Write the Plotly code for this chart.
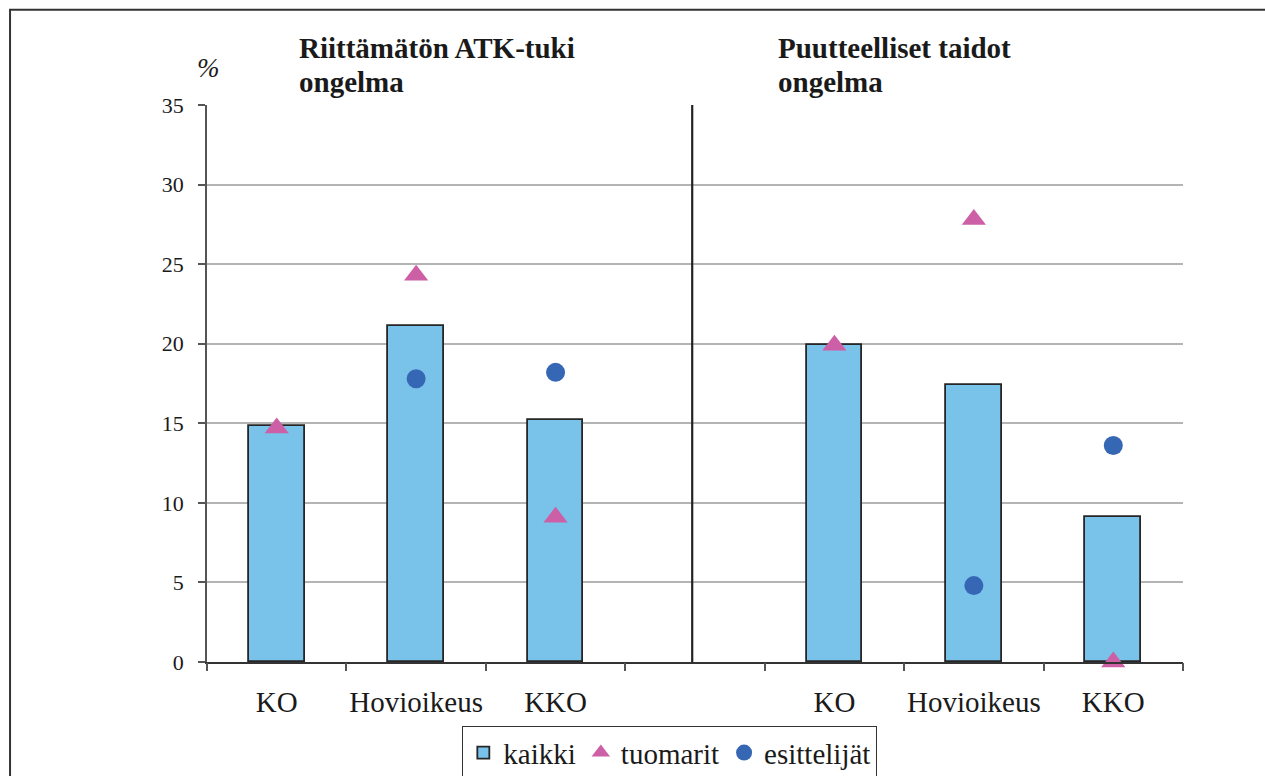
import plotly.graph_objects as go

# Court levels, two problem groups separated by an empty slot
slots = [0, 1, 2, 3, 4, 5, 6]
courts = ["KO", "Hovioikeus", "KKO", "", "KO", "Hovioikeus", "KKO"]

# Share (%) reporting the problem
kaikki = [14.8, 21.1, 15.2, None, 19.9, 17.4, 9.1]
tuomarit = [14.7, 24.3, 9.1, None, 19.9, 27.8, 0.0]
esittelijat = [None, 17.8, 18.2, None, None, 4.8, 13.6]

group_titles = [("Riittämätön ATK-tuki", "ongelma"), ("Puutteelliset taidot", "ongelma")]
y_ticks = [0, 5, 10, 15, 20, 25, 30, 35]

FONT = "Liberation Serif"
BAR_FILL = "#79c2ea"
PINK = "#cc5fa6"
BLUE = "#3567b5"

fig = go.Figure()
fig.add_trace(go.Bar(
    x=slots, y=kaikki, name="kaikki", width=0.4,
    marker=dict(color=BAR_FILL, line=dict(color="#262626", width=1.8)),
))
fig.add_trace(go.Scatter(
    x=slots, y=tuomarit, name="tuomarit", mode="markers", cliponaxis=False,
    marker=dict(symbol="triangle-up", size=21, color=PINK),
))
fig.add_trace(go.Scatter(
    x=slots, y=esittelijat, name="esittelijät", mode="markers", cliponaxis=False,
    marker=dict(symbol="circle", size=19, color=BLUE),
))

# invisible trace that carries the category-boundary tick marks
fig.add_trace(go.Scatter(x=[None], y=[None], xaxis="x2", showlegend=False, hoverinfo="skip"))

boundaries = [s - 0.5 for s in slots] + [slots[-1] + 0.5]

fig.update_layout(
    width=1265, height=776,
    margin=dict(l=207, r=82, t=105, b=114, autoexpand=False),
    paper_bgcolor="white", plot_bgcolor="white",
    font=dict(family=FONT, color="#1a1a1a"),
    bargap=0,
    xaxis=dict(
        range=[-0.5, 6.5], tickvals=slots, ticktext=courts,
        ticks="outside", ticklen=13, tickcolor="rgba(0,0,0,0)",
        tickfont=dict(size=29, family=FONT, color="#1a1a1a"),
        showgrid=False, zeroline=False,
        showline=True, linecolor="#333333", linewidth=1.5,
    ),
    xaxis2=dict(
        range=[-0.5, 6.5], overlaying="x", side="bottom", anchor="y",
        tickvals=boundaries, showticklabels=False,
        ticks="outside", ticklen=8, tickwidth=1.5, tickcolor="#555555",
        showgrid=False, zeroline=False, showline=False,
    ),
    yaxis=dict(
        range=[0, 35], tickvals=y_ticks,
        ticks="outside", ticklen=7, tickwidth=1.5, tickcolor="#555555",
        ticklabelstandoff=10,
        tickfont=dict(size=22, family=FONT, color="#1a1a1a"),
        showgrid=True, gridcolor="#b4b4b4", gridwidth=1.5,
        zeroline=False,
        showline=True, linecolor="#555555", linewidth=1.5,
    ),
    legend=dict(
        orientation="h", x=0.474, xanchor="center", y=-0.115, yanchor="top",
        font=dict(size=29, family=FONT, color="#1a1a1a"),
        bgcolor="white", bordercolor="#333333", borderwidth=1.2,
        itemwidth=30, tracegroupgap=0,
    ),
    showlegend=True,
)

# divider between the two problem groups
fig.add_shape(type="line", xref="x", yref="y", x0=2.98, x1=2.98, y0=0, y1=35.25,
              line=dict(color="#222222", width=2.2))

# outer frame
fig.add_shape(type="rect", xref="paper", yref="paper",
              x0=-0.2018, x1=1.12, y0=-0.25, y1=1.1712,
              line=dict(color="#333333", width=2), layer="below")

# group titles
for gx, (line1, line2) in zip([0.0922, 0.583], group_titles):
    fig.add_annotation(xref="paper", yref="paper", x=gx, y=1.1015, xanchor="left", yanchor="middle",
                       text=f"<b>{line1}</b>", showarrow=False,
                       font=dict(size=29, family=FONT, color="#1a1a1a"))
    fig.add_annotation(xref="paper", yref="paper", x=gx, y=1.0415, xanchor="left", yanchor="middle",
                       text=f"<b>{line2}</b>", showarrow=False,
                       font=dict(size=29, family=FONT, color="#1a1a1a"))

# unit label
fig.add_annotation(xref="paper", yref="paper", x=0.002, y=1.0664, xanchor="center", yanchor="middle",
                   text="<i>%</i>", showarrow=False,
                   font=dict(size=27, family=FONT, color="#1a1a1a"))

fig.write_html("out.html")
